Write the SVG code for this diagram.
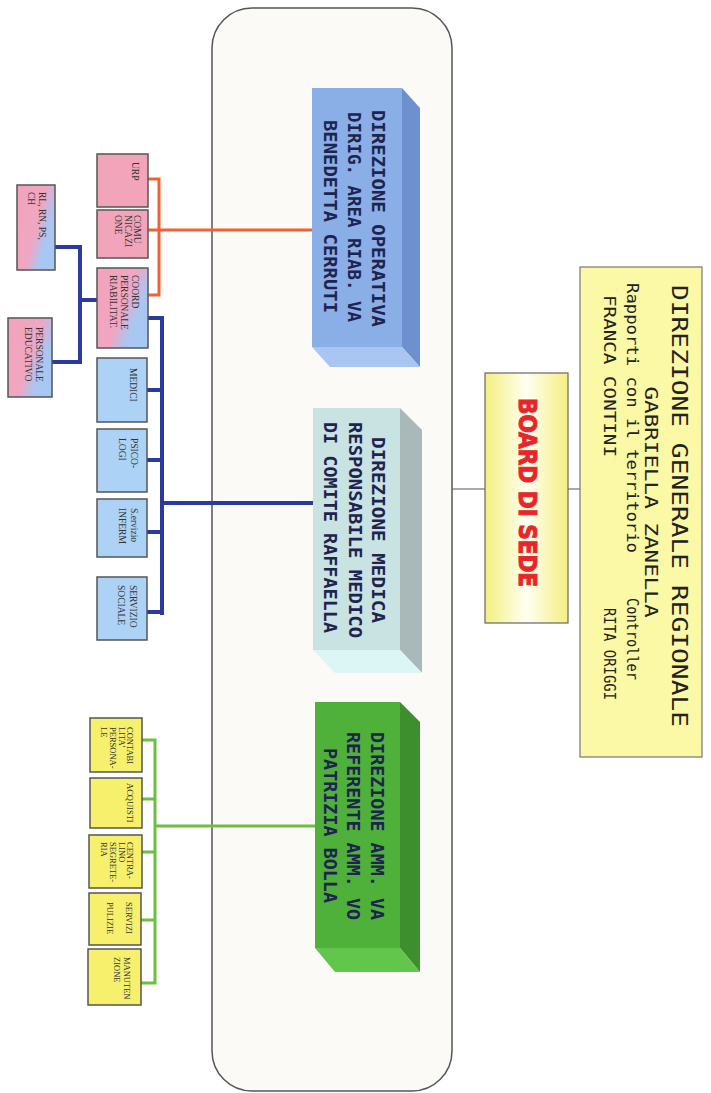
<svg xmlns="http://www.w3.org/2000/svg" width="711" height="1093" viewBox="0 0 711 1093">
<defs>
<linearGradient id="pb" x1="0" y1="0.2" x2="1" y2="0.8">
<stop offset="0" stop-color="#f3a3bb"/><stop offset="0.5" stop-color="#f0a6c2"/><stop offset="0.75" stop-color="#aac6f2"/><stop offset="1" stop-color="#a6c8f4"/>
</linearGradient>
<linearGradient id="bd" x1="0" y1="0" x2="1" y2="0">
<stop offset="0" stop-color="#f4ef80"/><stop offset="0.5" stop-color="#fffff2"/><stop offset="1" stop-color="#f4ef80"/>
</linearGradient>
<style>
.sb{stroke:#555;stroke-width:1.5}
.pk{fill:#f2a4bb}
.bl{fill:#acd2f6}
.yl{fill:#f6f06c}
.st{font-family:"Liberation Serif",serif;font-size:9.5px;fill:#333}
.sy{font-family:"Liberation Serif",serif;font-size:8.5px;fill:#333}
.bt{font-family:"DejaVu Sans Mono",monospace;font-weight:bold;font-size:18px;fill:#1e2350;text-anchor:middle}
.gt{font-family:"DejaVu Sans Mono",monospace;fill:#222;}
.c{fill:none;stroke-linecap:square}
</style>
</defs>
<rect width="711" height="1093" fill="#ffffff"/>
<g id="container">
<rect x="212" y="8" width="240" height="1083" rx="40" fill="#fbfaf7" stroke="#555" stroke-width="1.5"/>
</g>
<g id="connectors">
<g class="c" stroke="#f06232" stroke-width="3">
<path d="M312,230 H159 M159,179 V295 M148,179 H159 M148,230 H159 M148,295 H159"/>
</g>
<g class="c" stroke="#2b3a9e" stroke-width="4">
<path d="M313,503 H162 M162,318 V613 M148,318 H162 M148,390 H162 M148,460 H162 M148,532 H162 M148,612 H162"/>
<path d="M97,300 H80 M80,247 V362 M55,247 H80 M52,362 H80"/>
</g>
<g class="c" stroke="#6cc040" stroke-width="3">
<path d="M315,826 H155 M155,740 V983 M142,740 H155 M142,799 H155 M142,852 H155 M142,920 H155 M142,983 H155"/>
</g>
<g class="c" stroke="#555" stroke-width="1.2">
<path d="M453,489 H485 M568,489 H580"/>
</g>
</g>
<g id="dir-generale">
<rect x="580" y="267" width="122" height="490" fill="#fbf8a6" stroke="#777" stroke-width="1.2"/>
<text class="gt" font-size="22" text-anchor="middle" textLength="442" lengthAdjust="spacingAndGlyphs" transform="translate(672,506) rotate(90)">DIREZIONE GENERALE REGIONALE</text>
<text class="gt" font-size="17" text-anchor="middle" textLength="231" lengthAdjust="spacingAndGlyphs" transform="translate(645,502) rotate(90)">GABRIELLA ZANELLA</text>
<text class="gt" font-size="16" textLength="270" lengthAdjust="spacingAndGlyphs" transform="translate(627,283) rotate(90)">Rapporti con il territorio</text>
<text class="gt" font-size="16" textLength="82" lengthAdjust="spacingAndGlyphs" transform="translate(627,598) rotate(90)">Controller</text>
<text class="gt" font-size="16" textLength="162" lengthAdjust="spacingAndGlyphs" transform="translate(604,295) rotate(90)">FRANCA CONTINI</text>
<text class="gt" font-size="16" textLength="92" lengthAdjust="spacingAndGlyphs" transform="translate(604,608) rotate(90)">RITA ORIGGI</text>
</g>
<g id="board">
<rect x="485" y="373" width="83" height="250" fill="url(#bd)" stroke="#666" stroke-width="1.2"/>
<text font-family="'Liberation Sans Narrow','DejaVu Sans Condensed',sans-serif" font-weight="bold" font-size="25" fill="#e8262a" stroke="#e8262a" stroke-width="1" text-anchor="middle" textLength="189" lengthAdjust="spacingAndGlyphs" transform="translate(519,492.5) rotate(90)">BOARD DI SEDE</text>
</g>
<g id="dir-operativa">
<polygon points="402,88 420,108 420,367 402,347" fill="#6e90cf"/>
<polygon points="312,347 402,347 420,367 330,367" fill="#a9c6f2"/>
<rect x="312" y="88" width="90" height="259" fill="#8aaee6"/>
<text class="bt" textLength="217" lengthAdjust="spacingAndGlyphs" transform="translate(371.5,218.5) rotate(90)">DIREZIONE OPERATIVA</text>
<text class="bt" textLength="210" lengthAdjust="spacingAndGlyphs" transform="translate(347.5,217) rotate(90)">DIRIG. AREA RIAB. VA</text>
<text class="bt" textLength="193" lengthAdjust="spacingAndGlyphs" transform="translate(323.5,216.5) rotate(90)">BENEDETTA CERRUTI</text>
</g>
<g id="dir-medica">
<polygon points="400,408 422,430 422,673 400,650" fill="#a9b9b9"/>
<polygon points="313,650 400,650 422,673 335,673" fill="#dcf5f5"/>
<rect x="313" y="408" width="87" height="242" fill="#c9e2e2"/>
<text class="bt" textLength="186" lengthAdjust="spacingAndGlyphs" transform="translate(371.5,530) rotate(90)">DIREZIONE MEDICA</text>
<text class="bt" textLength="216" lengthAdjust="spacingAndGlyphs" transform="translate(348.5,530) rotate(90)">RESPONSABILE MEDICO</text>
<text class="bt" textLength="211" lengthAdjust="spacingAndGlyphs" transform="translate(323.5,527.5) rotate(90)">DI COMITE RAFFAELLA</text>
</g>
<g id="dir-amministrativa">
<polygon points="400,702 420,722 420,972 400,948" fill="#3d8e2c"/>
<polygon points="315,948 400,948 420,972 335,972" fill="#62c64c"/>
<rect x="315" y="702" width="85" height="246" fill="#4fb03a"/>
<text class="bt" fill="#1a2a3a" textLength="188" lengthAdjust="spacingAndGlyphs" transform="translate(370.5,826) rotate(90)">DIREZIONE AMM. VA</text>
<text class="bt" fill="#1a2a3a" textLength="188" lengthAdjust="spacingAndGlyphs" transform="translate(346.5,826) rotate(90)">REFERENTE AMM. VO</text>
<text class="bt" fill="#1a2a3a" textLength="155" lengthAdjust="spacingAndGlyphs" transform="translate(323.5,825.5) rotate(90)">PATRIZIA BOLLA</text>
</g>
<g id="urp"><rect class="sb pk" x="97" y="154" width="51" height="53"/>
<text class="st" transform="translate(132,162) rotate(90)">URP</text></g>
<g id="comunicazione"><rect class="sb pk" x="97" y="210" width="51" height="48"/>
<text class="st" transform="translate(134,215) rotate(90)">COMU</text>
<text class="st" transform="translate(124.5,215) rotate(90)">NICAZI</text>
<text class="st" transform="translate(115,215) rotate(90)">ONE</text></g>
<g id="coord"><rect class="sb" fill="url(#pb)" x="97" y="268" width="51" height="80"/>
<text class="st" transform="translate(132,275) rotate(90)">COORD</text>
<text class="st" transform="translate(121,275) rotate(90)">PERSONALE</text>
<text class="st" transform="translate(109.5,275) rotate(90)">RIABILITAT.</text></g>
<g id="rl"><rect class="sb" fill="url(#pb)" x="17" y="185" width="38" height="85"/>
<text class="st" transform="translate(39,192) rotate(90)">RL, RN, PS,</text>
<text class="st" transform="translate(28,192) rotate(90)">CH</text></g>
<g id="educativo"><rect class="sb" fill="url(#pb)" x="8" y="318" width="44" height="79"/>
<text class="st" transform="translate(36,327) rotate(90)">PERSONALE</text>
<text class="st" transform="translate(25,327) rotate(90)">EDUCATIVO</text></g>
<g id="medici"><rect class="sb bl" x="97" y="358" width="50" height="64"/>
<text class="st" transform="translate(130,368) rotate(90)">MEDICI</text></g>
<g id="psicologi"><rect class="sb bl" x="97" y="429" width="50" height="63"/>
<text class="st" transform="translate(131,438) rotate(90)">PSICO-</text>
<text class="st" transform="translate(119,438) rotate(90)">LOGI</text></g>
<g id="infermieri"><rect class="sb bl" x="97" y="499" width="50" height="58"/>
<text class="st" transform="translate(131,508) rotate(90)">S.ervizio</text>
<text class="st" transform="translate(119,508) rotate(90)">INFERM</text></g>
<g id="sociale"><rect class="sb bl" x="97" y="577" width="50" height="63"/>
<text class="st" transform="translate(130,585) rotate(90)">SERVIZIO</text>
<text class="st" transform="translate(118,585) rotate(90)">SOCIALE</text></g>
<g id="contabilita"><rect class="sb yl" x="90" y="718" width="52" height="54"/>
<text class="sy" transform="translate(127,727) rotate(90)">CONTABI</text>
<text class="sy" transform="translate(119,727) rotate(90)">LITA'</text>
<text class="sy" transform="translate(110,727) rotate(90)">PERSONA-</text>
<text class="sy" transform="translate(101,727) rotate(90)">LE</text></g>
<g id="acquisti"><rect class="sb yl" x="90" y="778" width="52" height="50"/>
<text class="sy" transform="translate(127,783) rotate(90)">ACQUISTI</text></g>
<g id="centralino"><rect class="sb yl" x="89" y="835" width="53" height="53"/>
<text class="sy" transform="translate(127,842) rotate(90)">CENTRA-</text>
<text class="sy" transform="translate(119,842) rotate(90)">LINO</text>
<text class="sy" transform="translate(110,842) rotate(90)">SEGRETE-</text>
<text class="sy" transform="translate(101,842) rotate(90)">RIA</text></g>
<g id="pulizie"><rect class="sb yl" x="89" y="893" width="52" height="52"/>
<text class="sy" transform="translate(125.5,902) rotate(90)">SERVIZI</text>
<text class="sy" transform="translate(107,902) rotate(90)">PULIZIE</text></g>
<g id="manutenzione"><rect class="sb yl" x="88" y="949" width="53" height="56"/>
<text class="sy" transform="translate(124,957) rotate(90)">MANUTEN</text>
<text class="sy" transform="translate(114,957) rotate(90)">ZIONE</text></g>
</svg>
